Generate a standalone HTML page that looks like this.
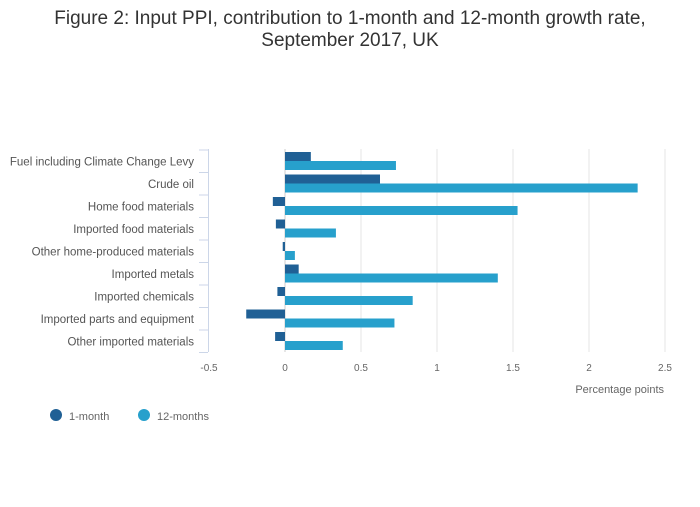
<!DOCTYPE html>
<html><head><meta charset="utf-8"><style>
body{margin:0;background:#fff;font-family:"Liberation Sans",sans-serif}
svg text{font-family:"Liberation Sans",sans-serif}
</style></head><body>
<svg width="700" height="502" viewBox="0 0 700 502">
<text x="350" y="24" text-anchor="middle" font-size="19" fill="#333">Figure 2: Input PPI, contribution to 1-month and 12-month growth rate,</text>
<text x="350" y="46" text-anchor="middle" font-size="19" fill="#333">September 2017, UK</text>
<g id="grid"></g><g id="bars"></g><g id="labels"></g>
<text x="664" y="393" text-anchor="end" font-size="11" fill="#666">Percentage points</text>
<g><circle cx="56" cy="415" r="6" fill="#206095"/><text x="69" y="420" font-size="11" fill="#666">1-month</text></g>
<g><circle cx="144" cy="415" r="6" fill="#27a0cc"/><text x="157" y="420" font-size="11" fill="#666">12-months</text></g>
</svg>
<script>
const categories=["Fuel including Climate Change Levy","Crude oil","Home food materials","Imported food materials","Other home-produced materials","Imported metals","Imported chemicals","Imported parts and equipment","Other imported materials"];
const oneMonth=[0.17,0.625,-0.08,-0.06,-0.015,0.09,-0.05,-0.255,-0.065];
const twelveMonths=[0.73,2.32,1.53,0.335,0.065,1.40,0.84,0.72,0.38];
const ticks=[-0.5,0,0.5,1,1.5,2,2.5];
const ns="http://www.w3.org/2000/svg";
const x=v=>285+v*152;
const top0=150,band=22.5;
function mk(t,a,p){const e=document.createElementNS(ns,t);for(const k in a)e.setAttribute(k,a[k]);p.appendChild(e);return e;}
const g=document.getElementById('grid'),b=document.getElementById('bars'),l=document.getElementById('labels');
ticks.forEach(t=>{
 if(t>-0.5){const ln=mk('line',{x1:x(t),x2:x(t),y1:149,y2:352,stroke:t===0?'#ccc':'#e6e6e6','stroke-width':1},g);
 
 }
 const tx=mk('text',{x:x(t),y:371,'text-anchor':'middle','font-size':10,fill:'#666'},l);tx.textContent=t;
 
 
});
const ax=mk('line',{x1:208.5,x2:208.5,y1:149,y2:352,stroke:'#ccd6e8'},g);


for(let i=0;i<=categories.length;i++){const y=top0+i*band;const tk=mk('line',{x1:199,x2:208,y1:y,y2:y,stroke:'#ccd6e8'},g);
 
 }
categories.forEach((c,i)=>{
 const y0=top0+i*band;
 const t=mk('text',{x:194,y:y0+band/2+4,'text-anchor':'end','font-size':11.5,fill:'#555'},l);t.textContent=c;
 
 
 const v1=oneMonth[i],v2=twelveMonths[i];
 const r1=mk('rect',{x:Math.min(x(0),x(v1)),y:y0+2,width:Math.abs(x(v1)-x(0)),height:9,fill:'#206095'},b);
 
 
 const r2=mk('rect',{x:Math.min(x(0),x(v2)),y:y0+11,width:Math.abs(x(v2)-x(0)),height:9,fill:'#27a0cc'},b);
 
 
});
</script>
</body></html>
